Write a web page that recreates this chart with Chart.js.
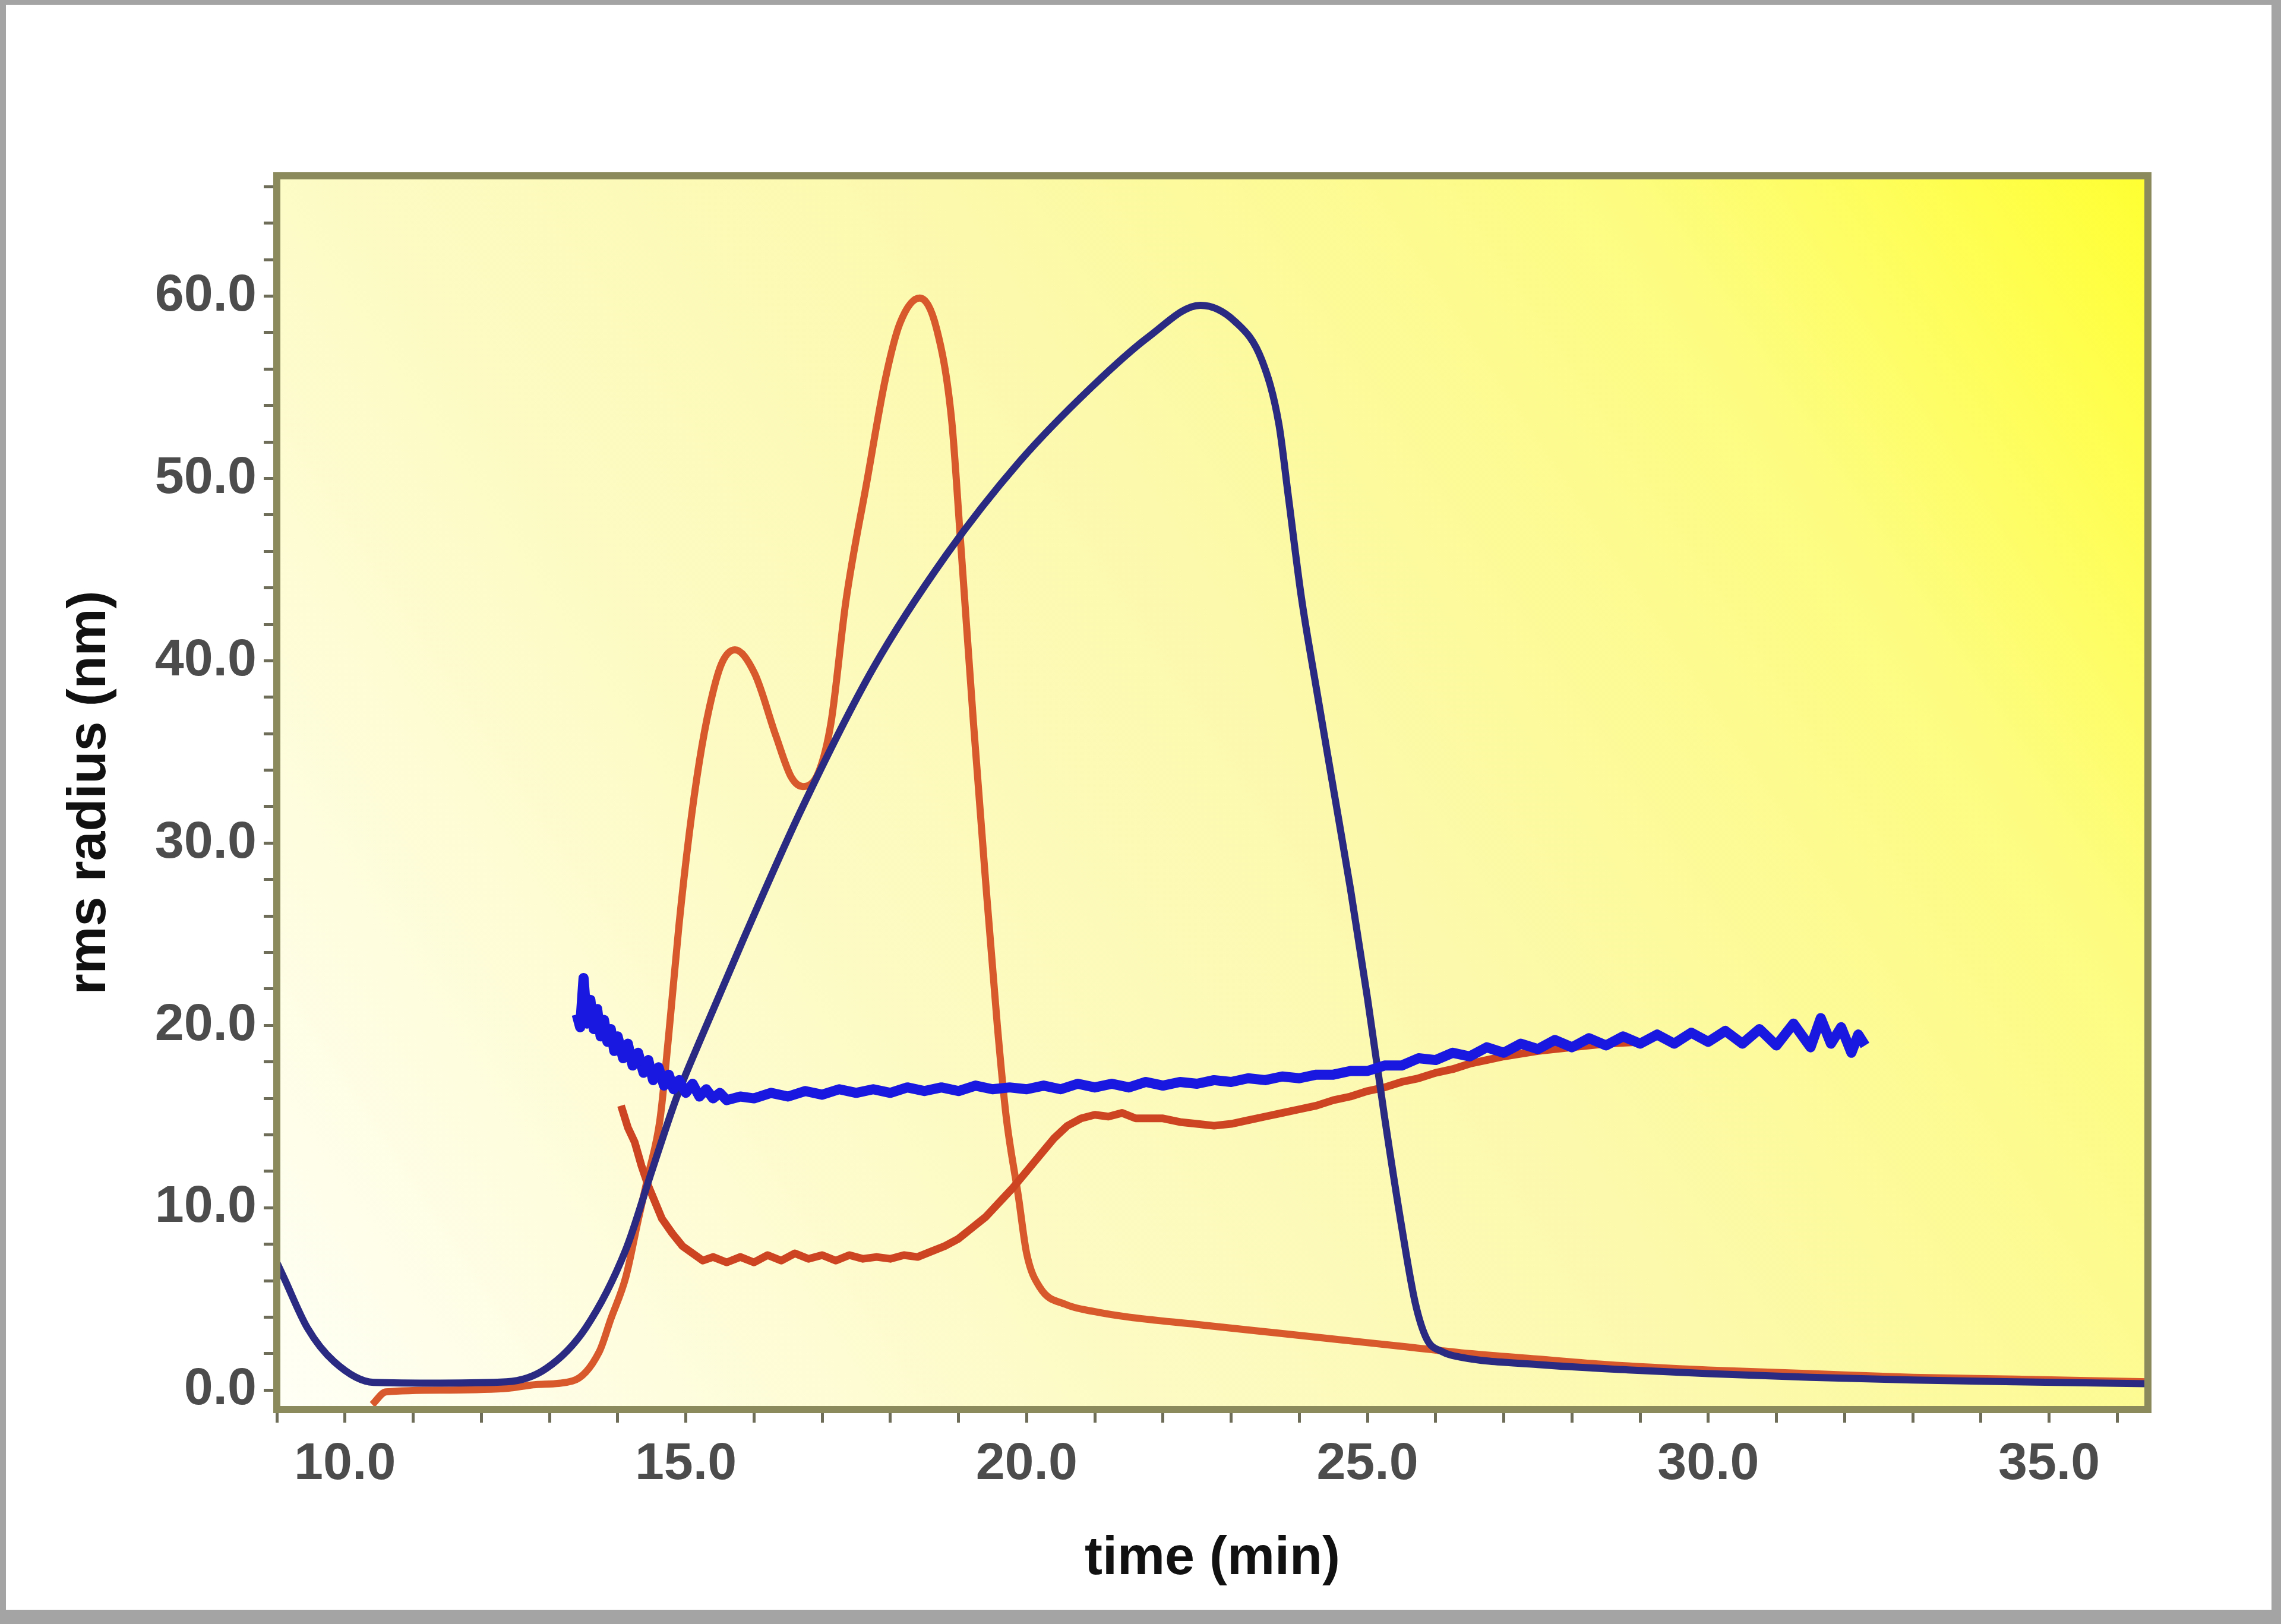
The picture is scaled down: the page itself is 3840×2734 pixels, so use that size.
<!DOCTYPE html>
<html>
<head>
<meta charset="utf-8">
<title>rms radius vs time</title>
<script src="https://cdn.jsdelivr.net/npm/chart.js@4.4.0/dist/chart.umd.min.js"></script>
<style>
  html, body { margin: 0; padding: 0; background: #fff; }
  canvas { display: block; }
</style>
</head>
<body>
<canvas id="rmsChart" width="3840" height="2734"></canvas>
<script>
// values (time in min, radius in nm)

// red sample, smooth trace
const redTime = [10.40, 10.60, 11.50, 12.40, 12.80, 13.34, 13.73, 13.90, 14.12, 14.30,
    14.45, 14.62, 14.75, 14.90, 15.05, 15.20, 15.35, 15.52, 15.72, 16.01,
    16.32, 16.55, 16.72, 16.95, 17.13, 17.35, 17.66, 17.93, 18.14, 18.43,
    18.68, 18.90, 19.03, 19.22, 19.39, 19.57, 19.70, 19.88, 20.00, 20.20,
    20.57, 21.00, 21.50, 22.50, 23.50, 24.50, 25.50, 26.50, 27.50, 28.50,
    30.00, 31.50, 33.00, 34.50, 36.45];
const redTrace = [-0.8, -0.1, 0.0, 0.1, 0.3, 0.5, 2.1, 3.9, 6.2, 9.3,
    11.8, 14.8, 19.5, 25.5, 30.5, 34.5, 37.5, 39.8, 40.6, 39.3,
    35.9, 33.6, 33.1, 33.9, 36.6, 43.3, 49.9, 55.5, 58.5, 59.9,
    58.2, 53.2, 46.6, 36.6, 28.3, 20.0, 15.0, 10.6, 7.5, 5.6,
    4.7, 4.3, 4.0, 3.6, 3.2, 2.8, 2.4, 2.0, 1.7, 1.4,
    1.1, 0.9, 0.7, 0.6, 0.45];

// blue sample, smooth trace
const blueTime = [9.00, 9.10, 9.45, 9.84, 10.42, 11.40, 12.37, 12.95, 13.53, 14.12,
    14.50, 14.86, 15.20, 15.83, 16.69, 17.75, 18.82, 19.89, 20.95, 21.80,
    22.55, 23.06, 23.45, 23.70, 23.84, 24.03, 24.25, 24.50, 24.75, 25.00,
    25.25, 25.50, 25.70, 25.87, 26.10, 26.37, 27.50, 28.87, 30.00, 31.50,
    33.00, 34.50, 36.45];
const blueTrace = [7.0, 6.2, 3.4, 1.56, 0.42, 0.38, 0.45, 1.18, 3.4, 7.7,
    12.0, 16.0, 19.1, 24.6, 31.8, 39.6, 45.8, 50.9, 55.0, 57.8,
    59.5, 58.6, 56.5, 53.0, 49.0, 43.5, 38.5, 33.0, 27.5, 21.5,
    15.0, 9.0, 4.8, 2.8, 2.1, 1.8, 1.4, 1.1, 0.9, 0.7,
    0.55, 0.45, 0.35];

// red sample, rms radius
const redRmsTime = [14.05, 14.15, 14.25, 14.35, 14.45, 14.55, 14.65, 14.80, 14.95, 15.10,
    15.25, 15.40, 15.60, 15.80, 16.00, 16.20, 16.40, 16.60, 16.80, 17.00,
    17.20, 17.40, 17.60, 17.80, 18.00, 18.20, 18.40, 18.60, 18.80, 19.00,
    19.20, 19.40, 19.60, 19.80, 20.00, 20.20, 20.40, 20.60, 20.80, 21.00,
    21.20, 21.40, 21.60, 21.80, 22.00, 22.25, 22.50, 22.75, 23.00, 23.25,
    23.50, 23.75, 24.00, 24.25, 24.50, 24.75, 25.00, 25.25, 25.50, 25.75,
    26.00, 26.25, 26.50, 26.75, 27.00, 27.50, 28.00, 28.50, 29.00];
const redRms = [15.6, 14.4, 13.6, 12.3, 11.2, 10.3, 9.4, 8.6, 7.9, 7.5,
    7.1, 7.3, 7.0, 7.3, 7.0, 7.4, 7.1, 7.5, 7.2, 7.4,
    7.1, 7.4, 7.2, 7.3, 7.2, 7.4, 7.3, 7.6, 7.9, 8.3,
    8.9, 9.5, 10.3, 11.1, 12.0, 12.9, 13.8, 14.5, 14.9, 15.1,
    15.0, 15.2, 14.9, 14.9, 14.9, 14.7, 14.6, 14.5, 14.6, 14.8,
    15.0, 15.2, 15.4, 15.6, 15.9, 16.1, 16.4, 16.6, 16.9, 17.1,
    17.4, 17.6, 17.9, 18.1, 18.3, 18.6, 18.8, 19.0, 19.1];

// blue sample, rms radius
const blueRmsTime = [13.40, 13.45, 13.50, 13.55, 13.60, 13.65, 13.70, 13.75, 13.80, 13.85,
    13.90, 13.95, 14.00, 14.08, 14.15, 14.22, 14.30, 14.38, 14.45, 14.52,
    14.60, 14.68, 14.75, 14.82, 14.90, 15.00, 15.10, 15.20, 15.30, 15.40,
    15.50, 15.60, 15.80, 16.00, 16.25,
    16.50, 16.75, 17.00, 17.25, 17.50, 17.75, 18.00, 18.25, 18.50, 18.75,
    19.00, 19.25, 19.50, 19.75, 20.00, 20.25, 20.50, 20.75, 21.00, 21.25,
    21.50, 21.75, 22.00, 22.25, 22.50, 22.75, 23.00, 23.25, 23.50, 23.75,
    24.00, 24.25, 24.50, 24.75, 25.00, 25.25, 25.50, 25.75, 26.00, 26.25,
    26.50, 26.75, 27.00, 27.25, 27.50, 27.75, 28.00, 28.25, 28.50, 28.75,
    29.00, 29.25, 29.50, 29.75, 30.00, 30.25, 30.50, 30.75, 31.00, 31.25,
    31.50, 31.65, 31.80, 31.95, 32.10, 32.20, 32.30];
const blueRms = [20.6, 19.9, 22.6, 20.1, 21.4, 19.8, 20.9, 19.4, 20.3, 19.1,
    19.8, 18.6, 19.4, 18.2, 19.0, 17.8, 18.5, 17.4, 18.1, 17.0,
    17.7, 16.7, 17.3, 16.5, 17.0, 16.3, 16.8, 16.1, 16.5, 16.0,
    16.3, 15.9, 16.1, 16.0, 16.3,
    16.1, 16.4, 16.2, 16.5, 16.3, 16.5, 16.3, 16.6, 16.4, 16.6,
    16.4, 16.7, 16.5, 16.6, 16.5, 16.7, 16.5, 16.8, 16.6, 16.8,
    16.6, 16.9, 16.7, 16.9, 16.8, 17.0, 16.9, 17.1, 17.0, 17.2,
    17.1, 17.3, 17.3, 17.5, 17.5, 17.8, 17.8, 18.2, 18.1, 18.5,
    18.3, 18.8, 18.5, 19.0, 18.7, 19.2, 18.8, 19.3, 18.9, 19.4,
    19.0, 19.5, 19.0, 19.6, 19.1, 19.7, 19.0, 19.8, 18.9, 20.1,
    18.8, 20.4, 19.0, 19.9, 18.5, 19.5, 18.9];

// axis ticks
const xMajorTicks = [10, 15, 20, 25, 30, 35];
const xTickLabels = ['10.0', '15.0', '20.0', '25.0', '30.0', '35.0'];
const yMajorTicks = [0, 10, 20, 30, 40, 50, 60];
const yTickLabels = ['0.0', '10.0', '20.0', '30.0', '40.0', '50.0', '60.0'];

function toPoints(xs, ys) {
    return xs.map((x, i) => ({ x: x, y: ys[i] }));
}

function minorTicks(from, to, step) {
    let list = [];
    for (let v = from; v <= to; v += step) list.push({ value: v });
    return list;
}

function tickLabel(majors, labels) {
    return function (value) {
        let i = majors.indexOf(Math.round(value * 100) / 100);
        return i >= 0 ? labels[i] : '';
    };
}

// yellow gradient behind the plot, grey frame round the picture, olive box round the plot
const plotDecor = {
    id: 'plotDecor',
    beforeDraw(chart) {
        const { ctx, chartArea: a, width, height } = chart;
        ctx.save();
        ctx.fillStyle = '#a4a4a4';
        ctx.fillRect(0, 0, width, height);
        ctx.fillStyle = '#ffffff';
        ctx.fillRect(10, 8, width - 26, height - 32);
        let g = ctx.createLinearGradient(a.left, a.bottom, a.right, a.top);
        g.addColorStop(0, '#fffff6');
        g.addColorStop(0.3, '#fdfbc6');
        g.addColorStop(0.55, '#fcf9ac');
        g.addColorStop(0.8, '#fdfc80');
        g.addColorStop(1, '#ffff32');
        ctx.fillStyle = g;
        ctx.fillRect(a.left, a.top, a.right - a.left, a.bottom - a.top);
        ctx.restore();
    },
    afterDraw(chart) {
        const { ctx, chartArea: a } = chart;
        ctx.save();
        ctx.strokeStyle = '#8a8a5c';
        ctx.lineWidth = 12;
        ctx.strokeRect(a.left, a.top, a.right - a.left, a.bottom - a.top);
        ctx.restore();
    }
};

const tickFont = { family: "'Liberation Sans', Arial, sans-serif", size: 88, weight: 'bold' };
const titleFont = { family: "'Liberation Sans', Arial, sans-serif", size: 90, weight: 'bold' };

let ctx = document.getElementById('rmsChart').getContext('2d');
let rmsChart = new Chart(ctx, {
    type: 'line',
    data: {
        datasets: [
            {
                label: 'blue rms radius',
                data: toPoints(blueRmsTime, blueRms),
                borderColor: '#1818e0',
                borderWidth: 17,
                borderJoinStyle: 'round',
                pointRadius: 0,
                tension: 0
            },
            {
                label: 'blue trace',
                data: toPoints(blueTime, blueTrace),
                borderColor: '#2a2a82',
                borderWidth: 12,
                pointRadius: 0,
                cubicInterpolationMode: 'monotone'
            },
            {
                label: 'red rms radius',
                data: toPoints(redRmsTime, redRms),
                borderColor: '#cc4422',
                borderWidth: 13,
                borderJoinStyle: 'round',
                pointRadius: 0,
                tension: 0
            },
            {
                label: 'red trace',
                data: toPoints(redTime, redTrace),
                borderColor: '#d85a2c',
                borderWidth: 12,
                pointRadius: 0,
                cubicInterpolationMode: 'monotone'
            }
        ]
    },
    options: {
        responsive: false,
        animation: false,
        devicePixelRatio: 1,
        layout: { padding: { left: 0, top: 296, right: 224, bottom: 0 } },
        plugins: {
            legend: { display: false },
            tooltip: { enabled: false }
        },
        scales: {
            x: {
                type: 'linear',
                min: 9.0,
                max: 36.45,
                afterBuildTicks: s => { s.ticks = minorTicks(9, 36, 1); },
                afterFit: s => { s.height = 361; },
                ticks: {
                    autoSkip: false,
                    maxRotation: 0,
                    padding: 18,
                    color: '#4c4c4c',
                    font: tickFont,
                    callback: tickLabel(xMajorTicks, xTickLabels)
                },
                grid: { drawOnChartArea: false, drawTicks: true, tickLength: 22, tickWidth: 5, tickColor: '#6e6e58' },
                border: { display: false },
                title: { display: true, text: 'time (min)', color: '#111', font: titleFont, padding: { top: 0, bottom: 55 } }
            },
            y: {
                type: 'linear',
                min: -1.07,
                max: 66.6,
                afterBuildTicks: s => { s.ticks = minorTicks(0, 66, 2); },
                afterFit: s => { s.width = 466; },
                ticks: {
                    autoSkip: false,
                    padding: 12,
                    color: '#4c4c4c',
                    font: tickFont,
                    callback: tickLabel(yMajorTicks, yTickLabels)
                },
                grid: { drawOnChartArea: false, drawTicks: true, tickLength: 22, tickWidth: 5, tickColor: '#6e6e58' },
                border: { display: false },
                title: { display: true, text: 'rms radius (nm)', color: '#111', font: titleFont, padding: { top: 98, bottom: 0 } }
            }
        }
    },
    plugins: [plotDecor]
});
</script>
</body>
</html>
